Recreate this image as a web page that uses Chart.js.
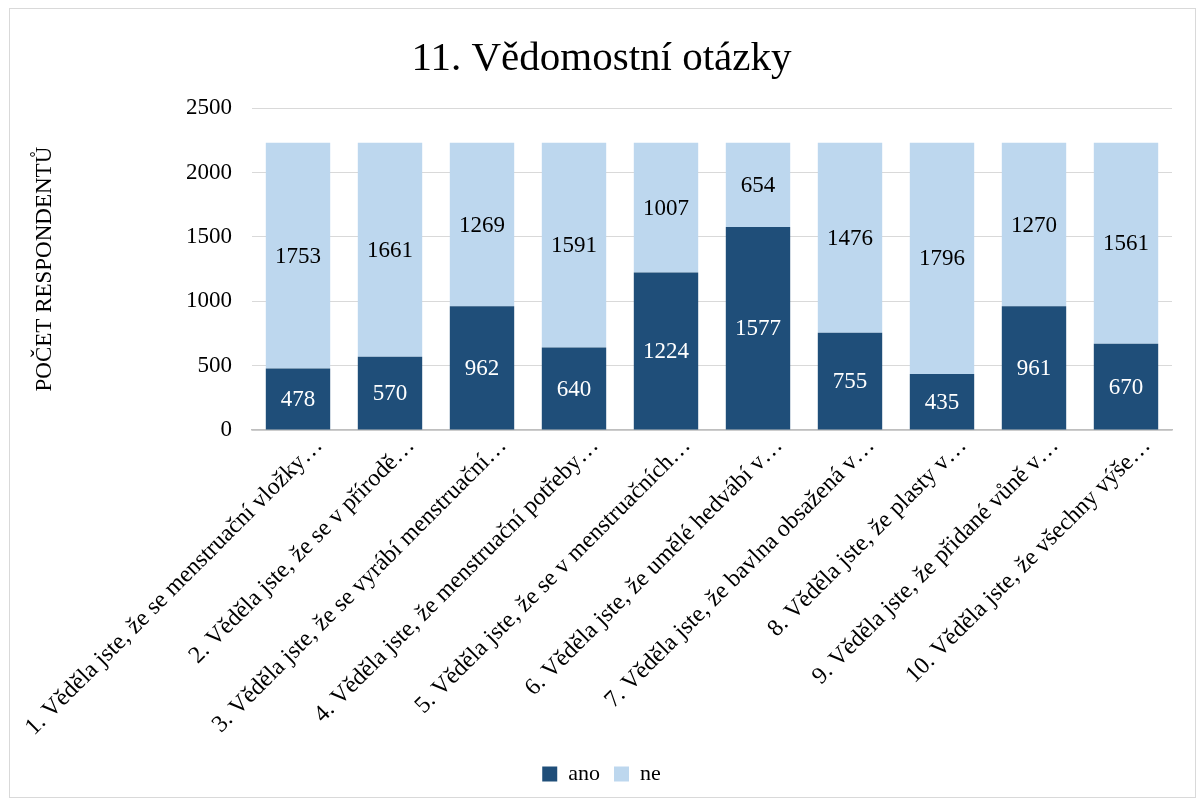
<!DOCTYPE html>
<html>
<head>
<meta charset="utf-8">
<script src="https://cdn.jsdelivr.net/npm/chart.js@4.4.0/dist/chart.umd.min.js"></script>
<style>
  body { margin: 0; background: #fff; }
  .wrap { position: relative; width: 1202px; height: 805px; }
  .frame { position: absolute; left: 9px; top: 8px; right: 6px; bottom: 7px; border: 1px solid #d9d9d9; pointer-events: none; }
</style>
</head>
<body>
<div class="wrap">
  <canvas id="chart" width="1202" height="805"></canvas>
  <div class="frame"></div>
</div>
<script>
// popisky kategorií (zkrácené jako v originále)
const categories = [
    '1. Věděla jste, že se menstruační vložky…',
    '2. Věděla jste, že se v přírodě…',
    '3. Věděla jste, že se vyrábí menstruační…',
    '4. Věděla jste, že menstruační potřeby…',
    '5. Věděla jste, že se v menstruačních…',
    '6. Věděla jste, že umělé hedvábí v…',
    '7. Věděla jste, že bavlna obsažená v…',
    '8. Věděla jste, že plasty v…',
    '9. Věděla jste, že přidané vůně v…',
    '10. Věděla jste, že všechny výše…'
];
const anoValues = [478, 570, 962, 640, 1224, 1577, 755, 435, 961, 670];
const neValues = [1753, 1661, 1269, 1591, 1007, 654, 1476, 1796, 1270, 1561];
const yTicks = [0, 500, 1000, 1500, 2000, 2500];

const serif = '"Liberation Serif", "Times New Roman", serif';
const PLOT_LEFT = 252;
const PLOT_BOTTOM = 430;

// vykreslení hodnot do středu segmentů
const valueLabels = {
    id: 'valueLabels',
    afterDatasetsDraw(chart) {
        const ctx = chart.ctx;
        ctx.save();
        ctx.font = '23px ' + serif;
        ctx.textAlign = 'center';
        ctx.textBaseline = 'middle';
        chart.data.datasets.forEach((ds, i) => {
            const meta = chart.getDatasetMeta(i);
            ctx.fillStyle = i === 0 ? '#ffffff' : '#000000';
            meta.data.forEach((bar, j) => {
                const p = bar.getCenterPoint();
                ctx.fillText(String(ds.data[j]), p.x, p.y + 1);
            });
        });
        ctx.restore();
    }
};

const ctx = document.getElementById('chart').getContext('2d');
new Chart(ctx, {
    type: 'bar',
    data: {
        labels: categories,
        datasets: [
            { label: 'ano', data: anoValues, backgroundColor: '#1f4e79', barPercentage: 0.7, categoryPercentage: 1 },
            { label: 'ne', data: neValues, backgroundColor: '#bdd7ee', barPercentage: 0.7, categoryPercentage: 1 }
        ]
    },
    options: {
        responsive: false,
        animation: false,
        layout: { padding: { left: 31, right: 30, top: 27, bottom: 10 } },
        plugins: {
            title: {
                display: true,
                text: '11. Vědomostní otázky',
                color: '#000',
                font: { family: serif, size: 41, weight: 'normal' },
                padding: { top: 8, bottom: 24 }
            },
            legend: {
                position: 'bottom',
                labels: {
                    color: '#000',
                    font: { family: serif, size: 22 },
                    boxWidth: 15,
                    boxHeight: 15,
                    padding: 14
                }
            },
            tooltip: { enabled: false }
        },
        scales: {
            x: {
                stacked: true,
                grid: { display: false, drawTicks: false },
                border: { display: true, color: '#bfbfbf', width: 1.5 },
                afterFit(axis) {
                    const c = axis.chart;
                    const legendH = c.legend ? c.legend.height : 50;
                    axis.height = c.height - PLOT_BOTTOM - c.options.layout.padding.bottom - legendH;
                    axis.paddingLeft = 0;
                    axis.paddingRight = 0;
                    // popisky končí kousek vpravo od středu sloupce
                    const base = Object.getPrototypeOf(axis).getPixelForTick;
                    axis.getPixelForTick = function (i) {
                        const p = base.call(this, i);
                        return p == null ? p : p + 21;
                    };
                },
                ticks: {
                    color: '#000',
                    font: { family: serif, size: 24 },
                    maxRotation: 45,
                    minRotation: 45,
                    autoSkip: false,
                    padding: 2
                }
            },
            y: {
                stacked: true,
                min: 0,
                max: 2500,
                afterBuildTicks(axis) { axis.ticks = yTicks.map(v => ({ value: v })); },
                afterFit(axis) { axis.width = PLOT_LEFT - 31; },
                grid: { color: '#d9d9d9', drawTicks: false },
                border: { display: false },
                ticks: {
                    color: '#000',
                    font: { family: serif, size: 23 },
                    padding: 20,
                    callback: v => String(v)
                },
                title: {
                    display: true,
                    text: 'POČET RESPONDENTŮ',
                    color: '#000',
                    font: { family: serif, size: 23 },
                    padding: 0
                }
            }
        }
    },
    plugins: [valueLabels]
});
</script>
</body>
</html>
